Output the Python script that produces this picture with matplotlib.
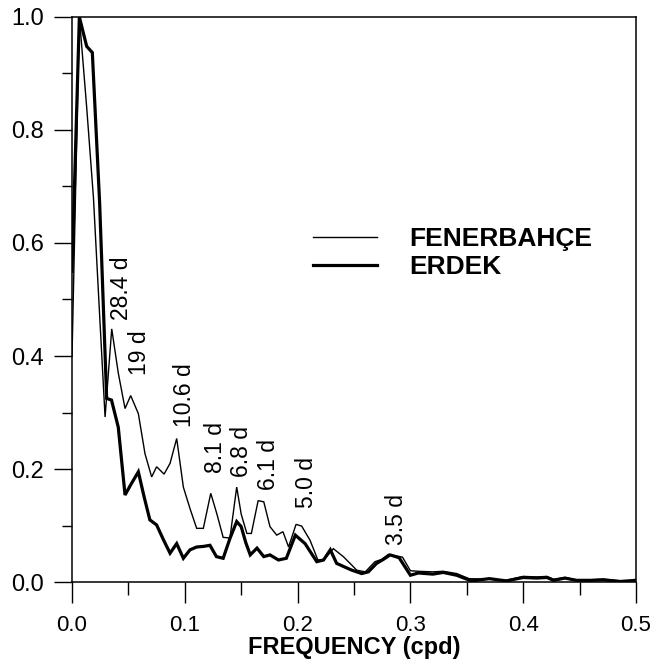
import numpy as np
import matplotlib
matplotlib.use('Agg')
import matplotlib.pyplot as plt
from matplotlib.ticker import MultipleLocator

plt.rcParams['font.family'] = ['Liberation Sans', 'DejaVu Sans']

# FENERBAHCE spectrum (thin line)
fen_f = [0.0, 0.0065, 0.013, 0.019, 0.024, 0.0293, 0.0352, 0.041, 0.047, 0.052,
         0.0588, 0.0647, 0.0706, 0.075, 0.0816, 0.0869, 0.0928, 0.0987, 0.1046, 0.1105,
         0.1164, 0.123, 0.1285, 0.134, 0.140, 0.146, 0.150, 0.155, 0.159, 0.165,
         0.170, 0.1755, 0.1815, 0.187, 0.192, 0.1986, 0.2036, 0.211, 0.218, 0.2235,
         0.2317, 0.2405, 0.2465, 0.2524, 0.26, 0.2686, 0.2745, 0.2805, 0.288, 0.293,
         0.30, 0.307, 0.32, 0.329, 0.341, 0.352, 0.37, 0.385, 0.40, 0.412,
         0.421, 0.427, 0.437, 0.447, 0.46, 0.471, 0.486, 0.5]
fen_v = [0.40, 1.0, 0.84, 0.68, 0.49, 0.292, 0.448, 0.37, 0.307, 0.330,
         0.298, 0.227, 0.186, 0.204, 0.191, 0.210, 0.254, 0.168, 0.13, 0.095,
         0.095, 0.157, 0.12, 0.079, 0.078, 0.168, 0.12, 0.086, 0.086, 0.144,
         0.142, 0.098, 0.083, 0.089, 0.062, 0.102, 0.099, 0.074, 0.039, 0.040,
         0.059, 0.045, 0.033, 0.021, 0.018, 0.036, 0.040, 0.049, 0.046, 0.044,
         0.020, 0.019, 0.018, 0.019, 0.015, 0.006, 0.005, 0.003, 0.010, 0.009,
         0.010, 0.005, 0.008, 0.004, 0.004, 0.005, 0.002, 0.002]

# ERDEK spectrum (thick line)
erd_f = [0.0, 0.0065, 0.013, 0.018, 0.0245, 0.0307, 0.035, 0.041, 0.047, 0.052,
         0.0588, 0.064, 0.069, 0.075, 0.081, 0.0869, 0.0928, 0.0987, 0.1046, 0.1105,
         0.1164, 0.1223, 0.128, 0.134, 0.140, 0.146, 0.150, 0.154, 0.158, 0.164,
         0.170, 0.1755, 0.183, 0.19, 0.198, 0.2066, 0.217, 0.223, 0.229, 0.2346,
         0.248, 0.2568, 0.2627, 0.270, 0.276, 0.282, 0.290, 0.30, 0.307, 0.32,
         0.329, 0.341, 0.354, 0.37, 0.385, 0.40, 0.412, 0.421, 0.427, 0.437,
         0.447, 0.46, 0.471, 0.486, 0.5]
erd_v = [0.55, 1.0, 0.948, 0.937, 0.67, 0.325, 0.322, 0.274, 0.154, 0.172,
         0.195, 0.15, 0.110, 0.101, 0.075, 0.051, 0.068, 0.042, 0.057, 0.062,
         0.063, 0.065, 0.045, 0.042, 0.077, 0.107, 0.098, 0.07, 0.048, 0.060,
         0.045, 0.048, 0.039, 0.042, 0.083, 0.068, 0.036, 0.039, 0.057, 0.033,
         0.021, 0.015, 0.018, 0.033, 0.040, 0.048, 0.043, 0.012, 0.016, 0.014,
         0.017, 0.012, 0.002, 0.006, 0.002, 0.008, 0.007, 0.008, 0.003, 0.007,
         0.003, 0.003, 0.004, 0.001, 0.003]

# period labels and where they sit (bottom of the rotated text)
period_labels = ['28.4 d', '19 d', '10.6 d', '8.1 d', '6.8 d', '6.1 d', '5.0 d', '3.5 d']
label_x = [0.044, 0.0594, 0.100, 0.127, 0.150, 0.174, 0.208, 0.288]
label_y = [0.463, 0.366, 0.274, 0.193, 0.186, 0.163, 0.131, 0.065]

fig = plt.figure(figsize=(6.62, 6.68), dpi=100)
ax = fig.add_axes([0.1088, 0.1287, 0.8519, 0.8459])

l1, = ax.plot(fen_f, fen_v, color='black', linewidth=1.0, solid_joinstyle='miter')
l2, = ax.plot(erd_f, erd_v, color='black', linewidth=2.3, solid_joinstyle='miter')

for txt, x, y in zip(period_labels, label_x, label_y):
    ax.text(x, y, txt, rotation=90, ha='center', va='bottom', fontsize=16.5)

ax.set_xlim(0, 0.5)
ax.set_ylim(0, 1.0)
ax.xaxis.set_major_locator(MultipleLocator(0.1))
ax.xaxis.set_minor_locator(MultipleLocator(0.05))
ax.yaxis.set_major_locator(MultipleLocator(0.2))
ax.yaxis.set_minor_locator(MultipleLocator(0.1))
ax.xaxis.set_major_formatter(plt.FormatStrFormatter('%.1f'))
ax.yaxis.set_major_formatter(plt.FormatStrFormatter('%.1f'))

ax.tick_params(axis='x', which='major', direction='out', length=15, width=1.0,
               labelsize=16, pad=9)
ax.tick_params(axis='x', which='minor', direction='out', length=9, width=1.0)
ax.tick_params(axis='y', which='major', direction='out', length=13, width=1.0,
               labelsize=17, pad=7)
ax.tick_params(axis='y', which='minor', direction='out', length=7, width=1.0)
for sp in ax.spines.values():
    sp.set_linewidth(1.1)

ax.set_xlabel('FREQUENCY (cpd)', fontsize=17, fontweight='bold', labelpad=0)

ax.legend([l1, l2], ['FENERBAHÇE', 'ERDEK'], loc='center left',
          bbox_to_anchor=(0.427, 0.582), frameon=False, borderpad=0,
          borderaxespad=0, handlelength=2.45, handletextpad=1.2,
          labelspacing=0.15, prop={'weight': 'bold', 'size': 19})

fig.savefig('out.png', dpi=100)
